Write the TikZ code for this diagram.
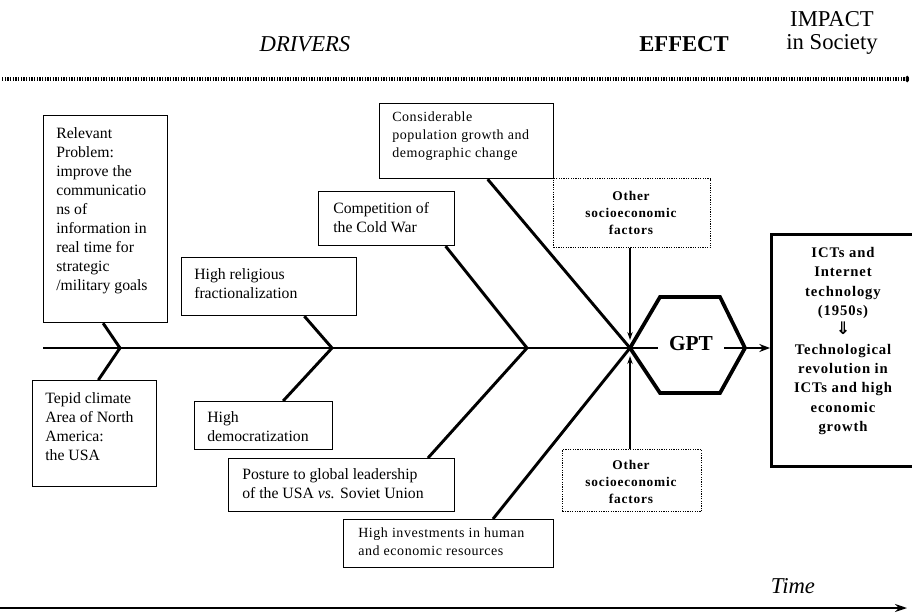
\documentclass[tikz,border=0pt]{standalone}
\usepackage{fontspec}
\setmainfont{Liberation Serif}
\newfontfamily\spfont[LetterSpace=4]{Liberation Serif}
\newfontfamily\spbfont[LetterSpace=6]{Liberation Serif}
\newfontfamily\dejavu{DejaVu Sans}
\usetikzlibrary{arrows.meta,calc}
\newlength{\px}\setlength{\px}{0.75pt}
\begin{document}
\begin{tikzpicture}[x=0.75pt,y=-0.75pt,
  box/.style={draw, line width=0.9pt, inner sep=0, anchor=north west},
  dbox/.style={draw, line width=0.9pt, dash pattern=on 0.9pt off 0.9pt, inner sep=0, anchor=north west},
  txt/.style={inner sep=0, anchor=north west, align=left, font=\fontsize{11.8}{14.3}\selectfont},
  smalltxt/.style={inner sep=0, anchor=north west, align=left, font=\spfont\fontsize{10.5}{13.5}\selectfont},
  othertxt/.style={inner sep=0, anchor=north, align=center, font=\spbfont\bfseries\fontsize{10}{12.8}\selectfont},
  toplabel/.style={inner sep=0, anchor=base, font=\fontsize{17}{20}\selectfont},
  bone/.style={line width=2.2pt},
  thinarrow/.style={line width=1.1pt, -{Stealth[length=6pt,width=4pt]}},
]
\clip (0,0) rectangle (912,613);

% top labels
\node[toplabel, font=\itshape\fontsize{17}{20}\selectfont] (drv) at (305,52) {DRIVERS};
\node[toplabel, font=\bfseries\fontsize{17}{20}\selectfont] (eff) at (684,52) {EFFECT};
\node[toplabel] (imp) at (832,27) {IMPACT};
\node[toplabel] (soc) at (832,50) {in Society};

% top dotted arrow
\coordinate (d0) at (2,79);
\coordinate (d1) at (909,79);
\draw[line width=2.4pt, dash pattern=on 1.1pt off 0.9pt, -{To[length=2.5pt,width=5pt]}] (d0) -- (d1);

% boxes
\node[box, minimum width=124\px, minimum height=207\px] (rp) at (43,115) {};
\node[txt] (rpt) at (56,127) {Relevant\\Problem:\\improve the\\communicatio\\ns of\\information in\\real time for\\strategic\\/military goals};

\node[box, minimum width=124\px, minimum height=106\px] (tep) at (32,380) {};
\node[txt] (tept) at (45,392) {Tepid climate\\Area of North\\America:\\the USA};

\node[box, minimum width=175\px, minimum height=58\px] (hr) at (181,257) {};
\node[txt] (hrt) at (194,268) {High religious\\fractionalization};

\node[box, minimum width=138\px, minimum height=48\px] (hd) at (194,401) {};
\node[txt] (hdt) at (207,411) {High\\democratization};

\node[box, minimum width=136\px, minimum height=54\px] (cw) at (318,191) {};
\node[txt] (cwt) at (333,202) {Competition of\\the Cold War};

\node[box, minimum width=226\px, minimum height=53\px] (po) at (228,458) {};
\node[txt] (pot) at (242,468) {Posture to global leadership\\of the USA \textit{vs.} Soviet Union};

\node[box, minimum width=174\px, minimum height=75\px] (cp) at (379,103) {};
\node[smalltxt] (cpt) at (392,112) {Considerable\\population growth and\\demographic change};

\node[box, minimum width=210\px, minimum height=48\px] (inv) at (343,519) {};
\node[smalltxt] (invt) at (358,528) {High investments in human\\and economic resources};

\node[dbox, minimum width=157\px, minimum height=69\px] (ot) at (553,178) {};
\node[othertxt] (ott) at (631,191) {Other\\socioeconomic\\factors};

\node[dbox, minimum width=139\px, minimum height=62\px] (ob) at (562,449) {};
\node[othertxt] (obt) at (631,460) {Other\\socioeconomic\\factors};

\node[draw, line width=2.3pt, inner sep=0, anchor=north west, minimum width=147\px, minimum height=232\px] (rb) at (770,233) {};
\node[inner sep=0, anchor=north, align=center, font=\spbfont\bfseries\fontsize{11}{14.5}\selectfont] (rbt) at (843,247)
  {ICTs and\\Internet\\technology\\(1950s)\\{\dejavu\bfseries\fontsize{13}{14.5}\selectfont ⇓}\\Technological\\revolution in\\ICTs and high\\economic\\growth};

% spine and junctions
\coordinate (s0) at (43,348);
\coordinate (j1) at (120,348);
\coordinate (j2) at (332,348);
\coordinate (j3) at (527,348);
\coordinate (j4) at (630,348);
\coordinate (j4t) at (630,340);
\coordinate (j4b) at (630,356);
\coordinate (hexR) at (745,348);

\draw[bone] (s0) -- (hexR);

% bones
\draw[bone] ($(rp.south west)!0.48!(rp.south east)$) -- (j1) -- ($(tep.north west)!0.53!(tep.north east)$);
\draw[bone] ($(hr.south west)!0.70!(hr.south east)$) -- (j2) -- ($(hd.north west)!0.64!(hd.north east)$);
\draw[bone] ($(cw.south west)!0.93!(cw.south east)$) -- (j3) -- ($(po.north west)!0.88!(po.north east)$);
\draw[bone] ($(cp.south west)!0.62!(cp.south east)$) -- (j4) -- ($(inv.north west)!0.71!(inv.north east)$);

% hexagon GPT
\draw[line width=2.8pt, line join=miter] (j4) -- (660,297) -- (720,297) -- (hexR) -- (720,393) -- (660,393) -- cycle;
\node[fill=white, inner xsep=8.5pt, inner ysep=3pt, font=\bfseries\fontsize{16}{18}\selectfont] (gpt) at (691,344) {GPT};

% arrows
\draw[thinarrow] (ot.south -| j4t) -- (j4t);
\draw[thinarrow] (ob.north -| j4b) -- (j4b);
\draw[line width=1.8pt, -{Stealth[length=8pt,width=6pt]}] (hexR) -- (rb.west |- hexR);

% time axis
\coordinate (b0) at (0,608);
\coordinate (b1) at (907,608);
\draw[line width=2pt, -{Stealth[length=9pt,width=6pt]}] (b0) -- (b1);
\node[toplabel, font=\itshape\fontsize{17}{20}\selectfont] (time) at (793,593) {Time};
\end{tikzpicture}
\end{document}
